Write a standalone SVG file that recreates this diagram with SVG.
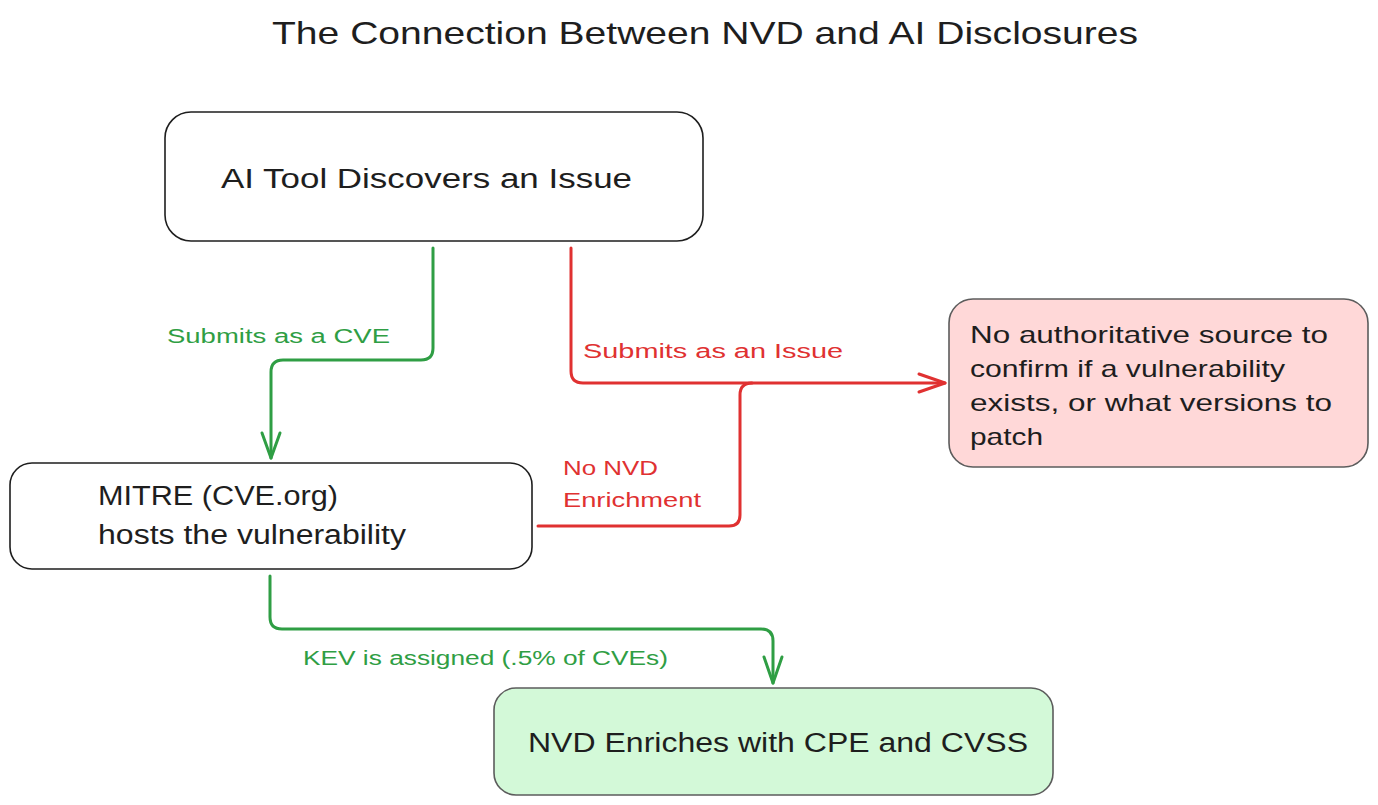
<svg xmlns="http://www.w3.org/2000/svg" width="1378" height="805" viewBox="0 0 1378 805">
<style>
  text { font-family: "Liberation Sans", "DejaVu Sans", sans-serif; }
  .title { font-size: 32px; fill: #1e1e1e; }
  .node { font-size: 27px; fill: #1e1e1e; }
  .note { font-size: 24px; fill: #1e1e1e; }
  .lbl { font-size: 20px; }
  .g { fill: #2f9e44; }
  .r { fill: #e03131; }
  .box { stroke: #1e1e1e; stroke-width: 1.6; fill: #ffffff; }
  .cbox { stroke: #5c5c5c; stroke-width: 1.6; }
  .con { fill: none; stroke-width: 3; stroke-linecap: round; stroke-linejoin: round; }
  .cg { stroke: #2f9e44; }
  .cr { stroke: #e03131; }
</style>
<rect x="0" y="0" width="1378" height="805" fill="#ffffff"/>
<text class="title" x="272" y="44" textLength="866" lengthAdjust="spacingAndGlyphs">The Connection Between NVD and AI Disclosures</text>

<g id="connectors">
  <g id="edge-cve">
    <path class="con cg" d="M433 248 V348 Q433 360 421 360 H283 Q271 360 271 372 V458"/>
    <path class="con cg" d="M262 433 L271 458 L280 433"/>
    <text class="lbl g" x="167" y="343" textLength="223" lengthAdjust="spacingAndGlyphs">Submits as a CVE</text>
  </g>
  <g id="edge-issue">
    <path class="con cr" d="M571 248 V371 Q571 383 583 383 H945"/>
    <path class="con cr" d="M919 374 L945 383 L919 392"/>
    <text class="lbl r" x="583" y="358" textLength="260" lengthAdjust="spacingAndGlyphs">Submits as an Issue</text>
  </g>
  <g id="edge-nonvd">
    <path class="con cr" d="M538 526 H729 Q740 526 740 515 V395 Q740 383 752 383"/>
    <text class="lbl r" x="563" y="475" textLength="95" lengthAdjust="spacingAndGlyphs">No NVD</text>
    <text class="lbl r" x="563" y="507" textLength="138" lengthAdjust="spacingAndGlyphs">Enrichment</text>
  </g>
  <g id="edge-kev">
    <path class="con cg" d="M270 576 V617 Q270 629 282 629 H761 Q773 629 773 641 V683"/>
    <path class="con cg" d="M764 657 L773 683 L782 657"/>
    <text class="lbl g" x="303" y="665" textLength="365" lengthAdjust="spacingAndGlyphs">KEV is assigned (.5% of CVEs)</text>
  </g>
</g>

<g id="node-ai">
  <rect class="box" x="165" y="112" width="538" height="129" rx="26"/>
  <text class="node" x="221" y="188" textLength="411" lengthAdjust="spacingAndGlyphs">AI Tool Discovers an Issue</text>
</g>

<g id="node-mitre">
  <rect class="box" x="10" y="463" width="522" height="106" rx="22"/>
  <text class="node" x="98" y="505" textLength="240" lengthAdjust="spacingAndGlyphs">MITRE (CVE.org)</text>
  <text class="node" x="98" y="544" textLength="308" lengthAdjust="spacingAndGlyphs">hosts the vulnerability</text>
</g>

<g id="node-noauth">
  <rect class="cbox" x="949" y="299" width="419" height="168" rx="24" fill="#ffd8d8"/>
  <text class="note" x="970" y="343" textLength="358" lengthAdjust="spacingAndGlyphs">No authoritative source to</text>
  <text class="note" x="970" y="377" textLength="315" lengthAdjust="spacingAndGlyphs">confirm if a vulnerability</text>
  <text class="note" x="970" y="411" textLength="362" lengthAdjust="spacingAndGlyphs">exists, or what versions to</text>
  <text class="note" x="970" y="445" textLength="73" lengthAdjust="spacingAndGlyphs">patch</text>
</g>

<g id="node-nvd">
  <rect class="cbox" x="494" y="688" width="559" height="107" rx="22" fill="#d3f9d8"/>
  <text class="node" x="528" y="752" textLength="500" lengthAdjust="spacingAndGlyphs">NVD Enriches with CPE and CVSS</text>
</g>
</svg>
